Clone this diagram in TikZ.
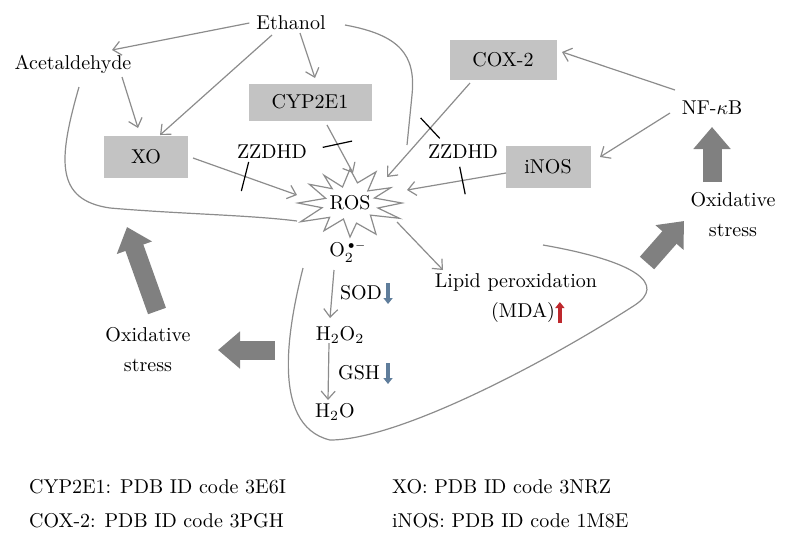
\documentclass[tikz,border=0pt]{standalone}
\usepackage{tikz}
\usetikzlibrary{calc,arrows.meta}
\definecolor{linegray}{RGB}{140,140,140}
\definecolor{boxgray}{RGB}{195,195,195}
\definecolor{fatgray}{RGB}{128,128,128}
\definecolor{downblue}{RGB}{95,125,155}
\definecolor{upred}{RGB}{190,40,45}
\def\inhib(#1)(#2)(#3){\draw[inhibtick] ($(#1)!#3!90:(#2)$) -- ($(#1)!#3!-90:(#2)$);}

\begin{document}
\begin{tikzpicture}[x=0.5pt,y=-0.5pt,
	conn/.style={draw=linegray, line width=0.6pt, -{Straight Barb[length=4pt,width=7pt]}},
	loopline/.style={draw=linegray, line width=0.6pt},
	inhibtick/.style={draw=black, line width=0.6pt},
	enzbox/.style={fill=boxgray, inner sep=0pt},
	bigarrow/.style={draw=fatgray, line width=9.5pt, -{Triangle[length=11pt,width=18pt]}},
	smallarrow/.style={line width=2pt, -{Triangle[length=3pt,width=4.5pt]}},
	twoline/.style={align=center}]
		%%%%% START %%%%%
		\useasboundingbox (0,0) rectangle (790,538);
		
		\node (ethanol) at (291,23) {Ethanol};
		\node (acet) at (73,64) {Acetaldehyde};
		\node[enzbox, minimum width=61.5pt, minimum height=18.5pt] (cyp) at (310,102) {CYP2E1};
		\node[enzbox, minimum width=42pt, minimum height=21pt] (xo) at (146,157) {XO};
		\node[enzbox, minimum width=53.5pt, minimum height=20pt] (cox) at (503,60) {COX-2};
		\node[enzbox, minimum width=42.5pt, minimum height=21pt] (inos) at (548,167) {iNOS};
		\node (nfkb) at (712,108) {NF-$\kappa$B};
		\node (zzleft) at (272,152) {ZZDHD};
		\node (zzright) at (463,152) {ZZDHD};
		
		% ROS burst
		\begin{scope}[shift={(350,203)}]
			\draw[draw=linegray, line width=0.6pt] plot[samples at={0,15,...,345}]
				({(1-0.48*mod(\x/15,2))*(52+5*sin(3*\x))*cos(\x)}, {(1-0.45*mod(\x/15,2))*(34+4*cos(5*\x))*sin(\x)}) -- cycle;
		\end{scope}
		\node (ros) at (350,203) {ROS};
		
		\node (otwo) at (348,252) {O$_2^{\,\scriptscriptstyle\bullet-}$};
		\node (sod) at (361,293) {SOD};
		\node (perox) at (340,335) {H$_2$O$_2$};
		\node (gsh) at (359,373) {GSH};
		\node (water) at (335,412) {H$_2$O};
		\node (lipid) at (516,282) {Lipid peroxidation};
		\node (mda) at (523,312) {(MDA)};
		\node[twoline] (stressleft) at (148,350) {Oxidative\\[3pt]stress};
		\node[twoline] (stressright) at (733,215) {Oxidative\\[3pt]stress};
		
		% pathways
		\draw[conn] (ethanol.west) -- ($(acet)+(39,-14)$);
		\draw[conn] ($(ethanol)+(-19,12)$) -- ($(xo)+(14,-22)$);
		\draw[conn] ($(ethanol)+(9,10)$) -- ($(cyp)+(5,-24)$);
		\draw[conn] ($(acet)+(49,13)$) -- ($(xo)+(-8,-29)$);
		\draw[loopline] ($(ethanol)+(54,2)$) .. controls (400,35) and (416,55) .. (412,95) .. controls (409,120) .. ($(ros)+(57,-58)$);
		\draw[loopline] ($(acet)+(6,23)$) .. controls (58,160) and (55,200) .. (110,208) .. controls (180,214) and (250,215) .. ($(ros)+(-53,18)$);
		
		\draw[conn] ($(xo)+(47,1)$) -- ($(ros)+(-53,-8)$) coordinate[pos=0.5] (cutxo);
		\draw[conn] ($(cyp)+(17,23)$) -- ($(ros)+(3,-30)$) coordinate[pos=0.4] (cutcyp);
		\draw[conn] ($(cox)+(-33,23)$) -- ($(ros)+(37,-26)$) coordinate[pos=0.48] (cutcox);
		\draw[conn] ($(inos)+(-42,6)$) -- ($(ros)+(57,-13)$) coordinate[pos=0.44] (cutinos);
		\inhib(cutxo)(ros)(7.5pt)
		\inhib(cutcyp)(ros)(7.5pt)
		\inhib(cutcox)(ros)(7pt)
		\inhib(cutinos)(ros)(7pt)
		
		\draw[conn] ($(nfkb)+(-37,-18)$) -- ($(cox)+(59,-8)$);
		\draw[conn] ($(nfkb)+(-42,5)$) -- ($(inos)+(52,-10)$);
		\draw[conn] ($(ros)+(47,19)$) -- ($(lipid)+(-73,-12)$);
		\draw[conn] ($(otwo)+(-14,18)$) -- ($(perox)+(-10,-17)$);
		\draw[conn] ($(perox)+(-11,8)$) -- ($(water)+(-7,-12)$);
		
		\draw[smallarrow, downblue] ($(sod.east)+(-1,-10)$) -- ($(sod.east)+(-1,11)$);
		\draw[smallarrow, downblue] ($(gsh.east)+(1,-10)$) -- ($(gsh.east)+(1,11)$);
		\draw[smallarrow, upred] ($(mda.east)+(-2,11)$) -- ($(mda.east)+(-2,-10)$);
		
		% loop round the scavengers
		\draw[loopline] (303,268) .. controls (290,320) and (268,425) .. (330,440) .. controls (400,440) and (550,360) .. (635,305) .. controls (665,285) and (640,262) .. (543,245);
		
		% oxidative stress arrows
		\coordinate (fatone) at (157,311);
		\coordinate (fatonetip) at (127,227);
		\coordinate (fattwo) at (275,350);
		\coordinate (fattwotip) at (218,350);
		\coordinate (fatthree) at (647,263);
		\coordinate (fatthreetip) at (684,221);
		\coordinate (fatfour) at (712,182);
		\coordinate (fatfourtip) at (712,127);
		\draw[bigarrow] (fatone) -- (fatonetip);
		\draw[bigarrow] (fattwo) -- (fattwotip);
		\draw[bigarrow] (fatthree) -- (fatthreetip);
		\draw[bigarrow] (fatfour) -- (fatfourtip);
		
		% structures
		\node[anchor=west] (capcyp) at (22,487) {CYP2E1: PDB ID code 3E6I};
		\node[anchor=west] (capcox) at (22,521) {COX-2: PDB ID code 3PGH};
		\node[anchor=west] (capxo) at (385,487) {XO: PDB ID code 3NRZ};
		\node[anchor=west] (capinos) at (385,521) {iNOS: PDB ID code 1M8E};
		%%%%% END %%%%%
	\end{tikzpicture}
\end{document}
